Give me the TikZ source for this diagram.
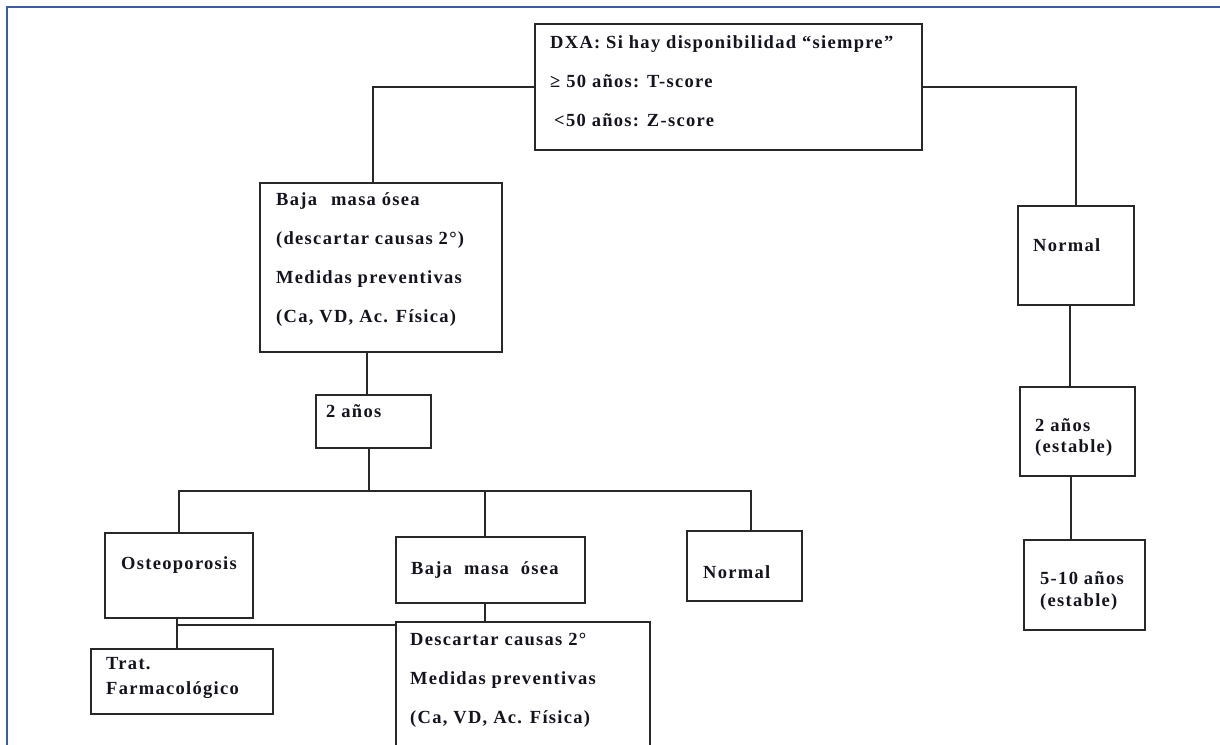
\documentclass[tikz,border=0pt]{standalone}
\usepackage{fontspec}
\setmainfont{Liberation Serif}[LetterSpace=7]
\definecolor{framec}{RGB}{62,92,165}
\definecolor{boxc}{RGB}{40,40,40}
\definecolor{txtc}{RGB}{20,20,30}
\begin{document}
\begin{tikzpicture}[x=1pt,y=-1pt,
  box/.style={draw=boxc, line width=1.3pt, inner sep=0pt, minimum width=#1},
  txt/.style={anchor=west, inner sep=0pt, align=left, text=txtc,
    font=\bfseries\fontsize{18.5}{39}\selectfont},
  conn/.style={draw=boxc, line width=1.3pt},
  frame/.style={draw=framec, line width=1.8pt}]
\useasboundingbox (0,0) rectangle (1220,744);
\fill[white] (0,0) rectangle (1220,744);
\draw[frame] (7,746) -- (7,7) -- (1222,7);

% boxes
\node[box=387pt, minimum height=126pt] (dxa) at (728.5,87) {};
\node[box=242pt, minimum height=169pt] (baja1) at (381,267.5) {};
\node[box=115pt, minimum height=53pt] (dos) at (373.5,421.5) {};
\node[box=148pt, minimum height=85pt] (osteo) at (179,575.5) {};
\node[box=189pt, minimum height=66pt] (baja2) at (490.5,570) {};
\node[box=115pt, minimum height=70pt] (normalL) at (744.5,566) {};
\node[box=182pt, minimum height=65pt] (trat) at (182,681.5) {};
\node[box=254pt, minimum height=148pt] (desc) at (523,696) {};
\node[box=116pt, minimum height=99pt] (normalR) at (1076,255.5) {};
\node[box=115pt, minimum height=89pt] (dosR) at (1077.5,431.5) {};
\node[box=121pt, minimum height=90pt] (cinco) at (1084.5,585) {};

% texts
\node[txt] (t-dxa) at (550,81) {DXA: Si hay disponibilidad “siempre”\\≥ 50 años: T-score\\\hspace{4pt}<50 años: Z-score};
\node[txt] (t-baja1) at (276,260) {Baja\hspace{8pt} masa ósea\\(descartar causas 2°)\\Medidas preventivas\\(Ca, VD, Ac. Física)};
\node[txt] (t-dos) at (326,411) {2 años};
\node[txt] (t-osteo) at (121,565) {Osteoporosis};
\node[txt] (t-baja2) at (411,570) {Baja\hspace{6pt} masa\hspace{6pt} ósea};
\node[txt] (t-normalL) at (703,572) {Normal};
\node[txt, font=\bfseries\fontsize{18.5}{25}\selectfont] (t-trat) at (106,677.5) {Trat.\\Farmacológico};
\node[txt] (t-desc) at (410,680) {Descartar causas 2°\\Medidas preventivas\\(Ca, VD, Ac. Física)};
\node[txt] (t-normalR) at (1033,245) {Normal};
\node[txt, font=\bfseries\fontsize{18.5}{21}\selectfont] (t-dosR) at (1035,437.5) {2 años\\(estable)};
\node[txt, font=\bfseries\fontsize{18.5}{22}\selectfont] (t-cinco) at (1040,591) {5-10 años\\(estable)};

% connectors
\coordinate (bar) at (369,491);
\coordinate (j) at ([yshift=-3.5pt]desc.north west);
\draw[conn] (dxa.west) -| ([xshift=-8pt]baja1.north);
\draw[conn] (dxa.east) -| (normalR.north);
\draw[conn] ([xshift=-14pt]baja1.south) -- ([xshift=-14pt]baja1.south |- dos.north);
\draw[conn] ([xshift=-4.5pt]dos.south) -- (bar);
\draw[conn] (osteo.north) |- (bar) -| ([xshift=6.5pt]normalL.north);
\draw[conn] ([xshift=-5.5pt]baja2.north) -- ([xshift=-5.5pt]baja2.north |- bar);
\draw[conn] ([xshift=-2pt]osteo.south) -- ([xshift=-2pt]osteo.south |- trat.north);
\draw[conn] (j) -- ([xshift=-2pt]osteo.south |- j);
\draw[conn] ([xshift=-5.5pt]baja2.south) -- ([xshift=-5.5pt]baja2.south |- desc.north);
\draw[conn] ([xshift=-6pt]normalR.south) -- ([xshift=-6pt]normalR.south |- dosR.north);
\draw[conn] ([xshift=-6.5pt]dosR.south) -- ([xshift=-6.5pt]dosR.south |- cinco.north);
\end{tikzpicture}
\end{document}
